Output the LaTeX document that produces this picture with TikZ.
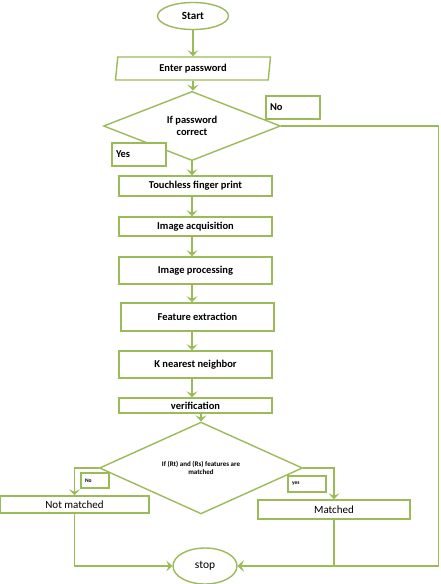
\documentclass[tikz,border=0pt]{standalone}
\usepackage{fontspec}
\setmainfont{Carlito}
\usetikzlibrary{shapes.geometric,arrows.meta}
\definecolor{leaf}{HTML}{9BBB59}
\begin{document}
\begin{tikzpicture}
[
    x=1pt, y=-1pt,
    every node/.style={draw=leaf, line width=1.4pt, fill=white, inner sep=0pt, font=\bfseries\fontsize{10.5}{11.5}\selectfont},
    box/.style={rectangle, minimum width=153pt},
    tag/.style={rectangle, align=left, inner xsep=4pt},
    flow/.style={draw=leaf, line width=1.4pt, -{Stealth[width=11pt,length=6pt,inset=2.5pt]}},
    link/.style={draw=leaf, line width=1.4pt}
]
    \useasboundingbox (0,0) rectangle (441,584);

    \node [ellipse, minimum width=71pt, minimum height=27pt, font=\bfseries\fontsize{11}{12}\selectfont] (start) at (193,16) {Start};
    \node [trapezium, trapezium left angle=76, trapezium right angle=104, trapezium stretches body, minimum width=155pt, minimum height=23pt] (pass) at (193,68.5) {Enter password};
    \node [diamond, minimum width=177pt, minimum height=47pt, align=center] (pwd) at (192,126) {If password\\correct};
    \node [tag, text width=46pt, minimum height=23pt] (no) at (293,107.5) {No};
    \node [tag, text width=46pt, minimum height=23pt] (yes) at (139,154.5) {Yes};

    \node [box, minimum height=20pt] (touch) at (195.5,186) {Touchless finger print};
    \node [box, minimum height=19pt] (acq) at (195.5,226.5) {Image acquisition};
    \node [box, minimum height=27pt] (proc) at (195.5,270.5) {Image processing};
    \node [box, minimum height=28pt] (feat) at (197.5,317) {Feature extraction};
    \node [box, minimum height=27pt] (knn) at (195.5,364.5) {K nearest neighbor};
    \node [box, minimum height=15pt] (verif) at (195.5,405.5) {verification};

    \node [diamond, minimum width=203pt, minimum height=56pt, align=center, font=\bfseries\fontsize{7}{8.5}\selectfont] (match) at (201,468) {If (Rt) and (Rs) features are\\matched};
    \node [tag, text width=20pt, minimum height=15pt, font=\bfseries\fontsize{5.5}{6}\selectfont] (no2) at (95,480.5) {No};
    \node [tag, text width=30pt, minimum height=16pt, font=\bfseries\fontsize{5.5}{6}\selectfont] (yes2) at (307,484) {yes};

    \node [box, minimum width=149pt, minimum height=17pt, font=\fontsize{11}{12}\selectfont] (notm) at (74.5,504.5) {Not matched};
    \node [box, minimum width=152pt, minimum height=19pt, font=\fontsize{11}{12}\selectfont] (okm) at (334,509.5) {Matched};
    \node [ellipse, minimum width=64pt, minimum height=36pt, font=\fontsize{11.5}{12}\selectfont] (stop) at (205,566) {stop};

    \coordinate (edge) at (438.5,0);

    \draw [flow] (start.south) -- (start.south |- pass.north);
    \draw [flow] (pass.south) -- (pass.south |- pwd.north);
    \draw [flow] (pwd.south) -- (pwd.south |- touch.north);
    \draw [flow] (touch.south -| pwd.south) -- (pwd.south |- acq.north);
    \draw [flow] (acq.south -| pwd.south) -- (pwd.south |- proc.north);
    \draw [flow] (proc.south -| pwd.south) -- (pwd.south |- feat.north);
    \draw [flow] (feat.south -| pwd.south) -- (pwd.south |- knn.north);
    \draw [flow] (knn.south -| pwd.south) -- (pwd.south |- verif.north);
    \draw [flow] (verif.south -| match.north) -- (match.north);
    \draw [flow] (pwd.east) -| (edge |- stop.east) -- (stop.east);
    \draw [flow] (match.west) -| (notm.north);
    \draw [flow] (match.east) -| (okm.north);
    \draw [flow] (notm.south) |- (stop.west);
    \draw [flow] (okm.south) |- (stop.east);
\end{tikzpicture}
\end{document}
